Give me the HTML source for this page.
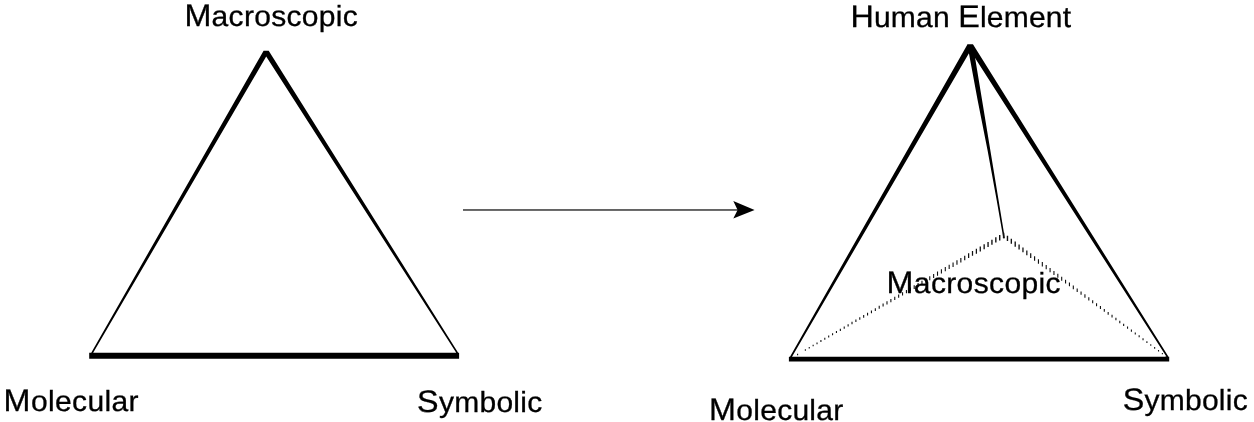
<!DOCTYPE html>
<html lang="en">
<head>
<meta charset="utf-8">
<title>Chemistry triangle to tetrahedron</title>
<style>
html,body{margin:0;padding:0;background:#fff;}
body{width:1254px;height:422px;overflow:hidden;}
#fig{position:relative;width:1254px;height:422px;overflow:hidden;will-change:transform;}
svg{display:block;position:absolute;left:0;top:0;}
.lbl{position:absolute;left:0;top:0;white-space:nowrap;font-family:"Liberation Sans",Arial,Helvetica,sans-serif;
  font-size:29.0px;line-height:40px;height:40px;color:#000;transform-origin:0 0;transform:scaleX(1.035);text-rendering:geometricPrecision;
  -webkit-text-stroke:0.3px #000;}
.lbl span{display:inline-block;}
.lbl::first-letter,.lbl span::first-letter{font-size:31.2px;}
</style>
</head>
<body>
<div id="fig">
<svg width="1254" height="422" viewBox="0 0 1254 422" role="img" aria-label="Triangle to tetrahedron diagram">
<rect width="1254" height="422" fill="#fff"/>
<!-- left triangle -->
<path fill="#000" fill-rule="evenodd" d="M263.6,50.8H268.7L458.15,352.8H459.1V358.7H89.2V352.8H91.25Z M266.2,56.6L456.25,352.8H93.15Z"/>
<!-- right tetrahedron -->
<path fill="#000" fill-rule="evenodd" d="M967.4,44.4H973.1L1168.5,356.7H1169.2V361.4H788.9V356.7H790.0Z M970.4,50.8L1166.5,356.7H792.0Z"/>
<polygon fill="#000" points="967.3,44.4 972.9,44.4 1004.85,238.2 1003.35,238.2 996.65,200 987.5,150 977.6,100"/>
<!-- hashed back edges -->
<path d="M1002.88 232.80h1.45v5.40h-1.45zM999.00 235.08h1.42v5.32h-1.42zM995.13 237.37h1.40v5.25h-1.40zM991.25 239.65h1.37v5.17h-1.37zM987.38 241.93h1.35v5.09h-1.35zM983.50 244.22h1.32v5.02h-1.32zM979.63 246.50h1.29v4.94h-1.29zM975.76 248.78h1.27v4.86h-1.27zM971.88 251.07h1.24v4.79h-1.24zM968.01 253.35h1.22v4.71h-1.22zM964.13 255.63h1.19v4.63h-1.19zM960.26 257.92h1.16v4.56h-1.16zM956.39 260.20h1.14v4.48h-1.14zM952.51 262.48h1.11v4.41h-1.11zM948.63 264.77h1.10v4.33h-1.10zM944.75 267.05h1.10v4.25h-1.10zM940.86 269.33h1.10v4.18h-1.10zM936.97 271.62h1.10v4.10h-1.10zM933.08 273.90h1.10v4.02h-1.10zM929.20 276.18h1.10v3.95h-1.10zM925.31 278.47h1.10v3.87h-1.10zM921.42 280.75h1.10v3.79h-1.10zM917.54 283.03h1.10v3.72h-1.10zM913.65 285.32h1.10v3.64h-1.10zM909.76 287.60h1.10v3.56h-1.10zM905.88 289.88h1.10v3.49h-1.10zM901.99 292.17h1.10v3.41h-1.10zM898.10 294.45h1.10v3.33h-1.10zM894.21 296.73h1.10v3.26h-1.10zM890.33 299.02h1.10v3.18h-1.10zM886.44 301.30h1.10v3.10h-1.10zM882.55 303.58h1.10v3.03h-1.10zM878.67 305.87h1.10v2.95h-1.10zM874.78 308.15h1.10v2.87h-1.10zM870.89 310.43h1.10v2.80h-1.10zM867.01 312.72h1.10v2.72h-1.10zM863.12 315.00h1.10v2.64h-1.10zM859.23 317.28h1.10v2.57h-1.10zM855.34 319.57h1.10v2.49h-1.10zM851.46 321.85h1.10v2.42h-1.10zM847.57 324.13h1.10v2.34h-1.10zM843.68 326.42h1.10v2.26h-1.10zM839.80 328.70h1.10v2.19h-1.10zM835.91 330.98h1.10v2.11h-1.10zM832.02 333.27h1.10v2.03h-1.10zM828.14 335.55h1.10v1.96h-1.10zM824.25 337.83h1.10v1.88h-1.10zM820.36 340.12h1.10v1.80h-1.10zM816.47 342.40h1.10v1.73h-1.10zM812.59 344.68h1.10v1.65h-1.10zM808.70 346.97h1.10v1.57h-1.10zM804.81 349.25h1.10v1.50h-1.10zM797.04 353.82h1.10v1.34h-1.10zM1006.76 235.73h1.42v5.30h-1.42zM1010.65 238.66h1.38v5.20h-1.38zM1014.54 241.59h1.35v5.11h-1.35zM1018.43 244.52h1.32v5.01h-1.32zM1022.32 247.45h1.28v4.91h-1.28zM1026.21 250.38h1.25v4.81h-1.25zM1030.10 253.31h1.22v4.71h-1.22zM1033.99 256.24h1.18v4.61h-1.18zM1037.88 259.17h1.15v4.52h-1.15zM1041.77 262.10h1.12v4.42h-1.12zM1045.65 265.04h1.10v4.32h-1.10zM1049.53 267.97h1.10v4.22h-1.10zM1053.40 270.90h1.10v4.12h-1.10zM1057.27 273.83h1.10v4.02h-1.10zM1061.14 276.76h1.10v3.93h-1.10zM1065.02 279.69h1.10v3.83h-1.10zM1068.89 282.62h1.10v3.73h-1.10zM1072.76 285.55h1.10v3.63h-1.10zM1076.64 288.48h1.10v3.53h-1.10zM1080.51 291.41h1.10v3.44h-1.10zM1084.38 294.34h1.10v3.34h-1.10zM1088.26 297.27h1.10v3.24h-1.10zM1092.13 300.20h1.10v3.14h-1.10zM1096.00 303.13h1.10v3.04h-1.10zM1099.88 306.06h1.10v2.94h-1.10zM1103.75 308.99h1.10v2.85h-1.10zM1107.62 311.92h1.10v2.75h-1.10zM1111.49 314.85h1.10v2.65h-1.10zM1115.37 317.78h1.10v2.55h-1.10zM1119.24 320.71h1.10v2.45h-1.10zM1123.11 323.64h1.10v2.35h-1.10zM1126.99 326.58h1.10v2.26h-1.10zM1130.86 329.51h1.10v2.16h-1.10zM1134.73 332.44h1.10v2.06h-1.10zM1138.61 335.37h1.10v1.96h-1.10zM1142.48 338.30h1.10v1.86h-1.10zM1146.35 341.23h1.10v1.77h-1.10zM1150.22 344.16h1.10v1.67h-1.10zM1154.10 347.09h1.10v1.57h-1.10zM1157.97 350.02h1.10v1.47h-1.10zM1161.84 352.95h1.10v1.37h-1.10zM1165.72 355.88h1.10v1.27h-1.10z" fill="#111"/>
<!-- arrow -->
<rect x="463.0" y="209.25" width="275.50" height="1.45" fill="#303030"/>
<polygon points="754.6,209.95 733.3,201.1 737.6,209.95 733.3,218.4" fill="#000"/>
</svg>
<div class="lbl" style="transform:translate(184.41px,-4.00px) scaleX(1.035);letter-spacing:0.286px">Macroscopic</div>
<div class="lbl" style="transform:translate(3.61px,381.00px) scaleX(1.035);letter-spacing:0.353px">Molecular</div>
<div class="lbl" style="transform:translate(417.09px,382.00px) scaleX(1.035);letter-spacing:0.258px">Symbolic</div>
<div class="lbl" style="transform:translate(850.51px,-3.00px) scaleX(1.035);letter-spacing:0.168px"><span>Human</span> <span>Element</span></div>
<div class="lbl" style="transform:translate(886.61px,263.00px) scaleX(1.035);letter-spacing:0.344px">Macroscopic</div>
<div class="lbl" style="transform:translate(709.11px,390.00px) scaleX(1.035);letter-spacing:0.257px">Molecular</div>
<div class="lbl" style="transform:translate(1122.69px,380.00px) scaleX(1.035);letter-spacing:0.230px">Symbolic</div>
</div>
</body>
</html>
